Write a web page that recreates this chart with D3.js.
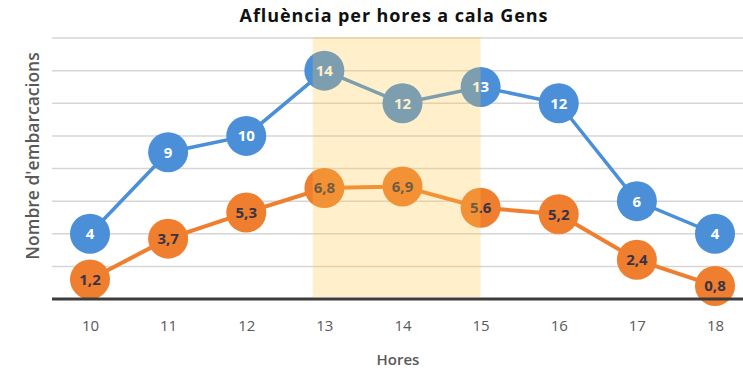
<!DOCTYPE html>
<html>
<head>
<meta charset="utf-8">
<script src="https://cdn.jsdelivr.net/npm/d3@7"></script>
<style>
  html, body { margin: 0; padding: 0; background: #fff; }
  svg { display: block; font-family: "Open Sans", "Noto Sans", sans-serif; }
</style>
</head>
<body>
<svg id="chart" width="743" height="371"></svg>
<script>
// Hours of the day and boat counts at cala Gens
const hours = [10, 11, 12, 13, 14, 15, 16, 17, 18];
const totalBoats = [4, 9, 10, 14, 12, 13, 12, 6, 4];
const totalLabels = ["4", "9", "10", "14", "12", "13", "12", "6", "4"];
const meanBoats = [1.2, 3.7, 5.3, 6.8, 6.9, 5.6, 5.2, 2.4, 0.8];
const meanLabels = ["1,2", "3,7", "5,3", "6,8", "6,9", "5.6", "5,2", "2,4", "0,8"];
const gridTicks = [2, 4, 6, 8, 10, 12, 14, 16];
const peakHours = [12.85, 15];

const svg = d3.select("#chart");
const W = 743, H = 371;

const x = d3.scaleLinear().domain([10, 18]).range([90, 715]);
const y = d3.scaleLinear().domain([0, 16]).range([299, 38]);
const left = 52;

// title
svg.append("text")
  .attr("x", 394).attr("y", 22)
  .attr("text-anchor", "middle")
  .attr("font-size", 18).attr("font-weight", 700)
  .attr("letter-spacing", 0.9)
  .attr("fill", "#111")
  .text("Afluència per hores a cala Gens");

// horizontal gridlines
svg.append("g").selectAll("line").data(gridTicks).join("line")
  .attr("x1", left).attr("x2", W)
  .attr("y1", d => y(d)).attr("y2", d => y(d))
  .attr("stroke", "#d6d6d6").attr("stroke-width", 1.5);

// series lines
const line = (vals) => d3.line().x((d, i) => x(hours[i])).y(d => y(d))(vals);
svg.append("path").attr("d", line(totalBoats))
  .attr("fill", "none").attr("stroke", "#4a8fd8").attr("stroke-width", 3.5);
svg.append("path").attr("d", line(meanBoats))
  .attr("fill", "none").attr("stroke", "#ef7e2f").attr("stroke-width", 4);

// markers with value labels
function markers(vals, labels, fill, textFill) {
  const g = svg.append("g");
  g.selectAll("circle").data(vals).join("circle")
    .attr("cx", (d, i) => x(hours[i])).attr("cy", d => y(d))
    .attr("r", 20).attr("fill", fill);
  g.selectAll("text").data(vals).join("text")
    .attr("x", (d, i) => x(hours[i])).attr("y", d => y(d))
    .attr("dy", "0.36em")
    .attr("text-anchor", "middle")
    .attr("font-size", 15).attr("font-weight", 700)
    .attr("fill", textFill)
    .text((d, i) => labels[i]);
}
markers(totalBoats, totalLabels, "#4a8fd8", "#ffffff");
markers(meanBoats, meanLabels, "#ef7e2f", "#3a3344");

// highlighted peak period
svg.append("rect")
  .attr("x", x(peakHours[0])).attr("width", x(peakHours[1]) - x(peakHours[0]))
  .attr("y", y(16) - 1).attr("height", y(0) - y(16) - 1)
  .attr("fill", "rgb(255, 196, 70)").attr("fill-opacity", 0.28);

// x axis
const xAxis = svg.append("g").attr("transform", `translate(0,${y(0)})`)
  .call(d3.axisBottom(x).tickValues(hours).tickSize(0).tickPadding(21).tickFormat(d3.format("d")));
xAxis.select(".domain").remove();
xAxis.selectAll("text")
  .attr("font-size", 15).attr("fill", "#595959")
  .attr("font-family", "\"Open Sans\", sans-serif");
svg.append("line")
  .attr("x1", left).attr("x2", W).attr("y1", y(0)).attr("y2", y(0))
  .attr("stroke", "#3c3c3c").attr("stroke-width", 3);

// axis titles
svg.append("text")
  .attr("x", 398).attr("y", 365)
  .attr("text-anchor", "middle")
  .attr("font-size", 15).attr("font-weight", 600)
  .attr("fill", "#595959")
  .text("Hores");
svg.append("text")
  .attr("transform", "translate(39,156) rotate(-90)")
  .attr("text-anchor", "middle")
  .attr("font-size", 17.5).attr("font-weight", 600)
  .attr("fill", "#595959")
  .text("Nombre d'embarcacions");
</script>
</body>
</html>
